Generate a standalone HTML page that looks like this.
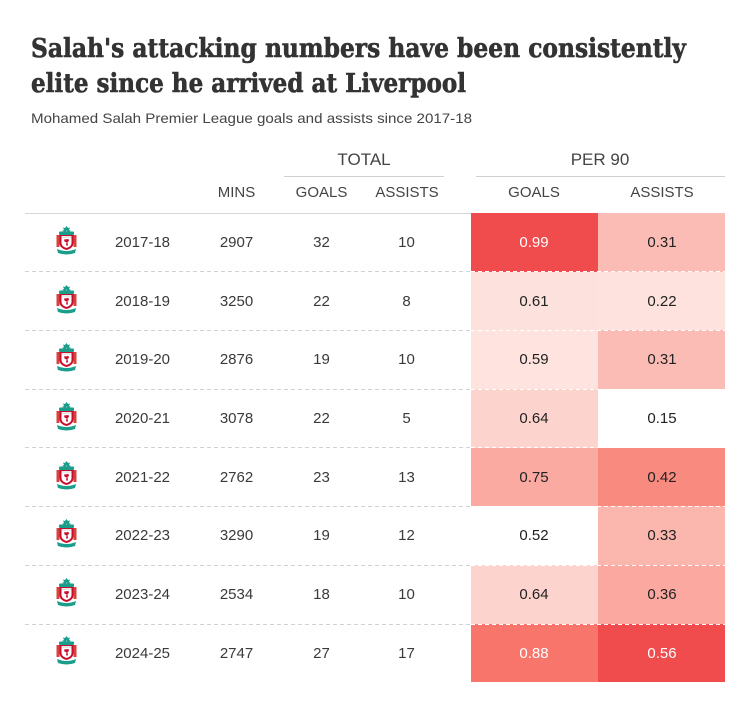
<!DOCTYPE html>
<html><head><meta charset="utf-8">
<style>
html,body{margin:0;padding:0;background:#fff;}
svg{display:block;}
.t{font-family:"DejaVu Serif","Liberation Serif",serif;font-weight:bold;font-size:26px;fill:#333;stroke:#333;stroke-width:0.6;}
.s{font-family:"Liberation Sans",sans-serif;font-size:14px;fill:#444;}
.h{font-family:"Liberation Sans",sans-serif;font-size:15px;fill:#444;text-anchor:middle;}
.hb{font-family:"Liberation Sans",sans-serif;font-size:17px;fill:#444;text-anchor:middle;}
.d{font-family:"Liberation Sans",sans-serif;font-size:15px;fill:#3a3a3a;text-anchor:middle;}
.p{font-family:"Liberation Sans",sans-serif;font-size:15px;fill:#222;text-anchor:middle;}
.w{fill:#fff;}
</style></head>
<body>
<svg width="750" height="708" viewBox="0 0 750 708" xmlns="http://www.w3.org/2000/svg">
<defs>
<g id="crest">
  <path d="M10.5 0 L12 2 L14 1.5 L13 4 L15 5 L11 6 L10.5 4 L10 6 L6 5 L8 4 L7 1.5 L9 2 Z" fill="#1a9d8a"/>
  <rect x="3" y="5.5" width="15" height="3.5" rx="1" fill="#1a9d8a"/>
  <rect x="0.5" y="9" width="3" height="12" fill="#d9413f"/>
  <rect x="17.5" y="9" width="3" height="12" fill="#d9413f"/>
  <path d="M3.5 9 H17.5 V17 Q17.5 22 10.5 24 Q3.5 22 3.5 17 Z" fill="#c8102e"/>
  <path d="M5.5 12 H15.5 V17 Q15.5 20.5 10.5 22 Q5.5 20.5 5.5 17 Z" fill="#fff"/>
  <rect x="5.5" y="10" width="10" height="2" fill="#e8e8e8"/>
  <path d="M8 13.5 L12.5 13 L13 15 L11.5 16 L12 19.5 L10 19.5 L10.5 16.5 L8.5 15.5 Z" fill="#c8102e"/>
  <path d="M1 23 Q10.5 27 20 23 L19 27 Q10.5 30 2 27 Z" fill="#1a9d8a"/>
</g>
</defs>

<text class="t" x="31" y="57" textLength="655" lengthAdjust="spacingAndGlyphs">Salah's attacking numbers have been consistently</text>
<text class="t" x="31" y="92" textLength="435" lengthAdjust="spacingAndGlyphs">elite since he arrived at Liverpool</text>
<text class="s" x="31" y="123" textLength="441" lengthAdjust="spacingAndGlyphs">Mohamed Salah Premier League goals and assists since 2017-18</text>

<text class="hb" x="364" y="165">TOTAL</text>
<text class="hb" x="600" y="165">PER 90</text>
<line x1="284" y1="176.5" x2="444" y2="176.5" stroke="#d0d0d0" stroke-width="1"/>
<line x1="476" y1="176.5" x2="725" y2="176.5" stroke="#d0d0d0" stroke-width="1"/>

<text class="h" x="236.5" y="197">MINS</text>
<text class="h" x="321.5" y="197">GOALS</text>
<text class="h" x="407" y="197">ASSISTS</text>
<text class="h" x="534" y="197">GOALS</text>
<text class="h" x="662" y="197">ASSISTS</text>

<line x1="25" y1="213.5" x2="725" y2="213.5" stroke="#d6d6d6" stroke-width="1"/>

<g>
<rect x="471" y="213" width="127" height="59" fill="#f04b4d"/>
<rect x="598" y="213" width="127" height="59" fill="#fbbcb5"/>
<rect x="471" y="272" width="127" height="58" fill="#fde1dd"/>
<rect x="598" y="272" width="127" height="58" fill="#fee2de"/>
<rect x="471" y="330" width="127" height="59" fill="#fee3df"/>
<rect x="598" y="330" width="127" height="59" fill="#fbbcb5"/>
<rect x="471" y="389" width="127" height="59" fill="#fdd3ce"/>
<rect x="598" y="389" width="127" height="59" fill="#ffffff"/>
<rect x="471" y="448" width="127" height="58" fill="#fbaaa2"/>
<rect x="598" y="448" width="127" height="58" fill="#f98a80"/>
<rect x="471" y="506" width="127" height="59" fill="#ffffff"/>
<rect x="598" y="506" width="127" height="59" fill="#fbb6ae"/>
<rect x="471" y="565" width="127" height="59" fill="#fdd3ce"/>
<rect x="598" y="565" width="127" height="59" fill="#faa8a0"/>
<rect x="471" y="624" width="127" height="58" fill="#f8756b"/>
<rect x="598" y="624" width="127" height="58" fill="#f04b4d"/>
</g>

<g stroke-width="1" stroke-dasharray="4 3">
<line x1="25" y1="271.5" x2="471" y2="271.5" stroke="#d2d2d2"/>
<line x1="471" y1="271.5" x2="725" y2="271.5" stroke="#ffffff"/>
<line x1="25" y1="330.5" x2="471" y2="330.5" stroke="#d2d2d2"/>
<line x1="471" y1="330.5" x2="725" y2="330.5" stroke="#ffffff"/>
<line x1="25" y1="389.5" x2="471" y2="389.5" stroke="#d2d2d2"/>
<line x1="471" y1="389.5" x2="725" y2="389.5" stroke="#ffffff"/>
<line x1="25" y1="447.5" x2="471" y2="447.5" stroke="#d2d2d2"/>
<line x1="471" y1="447.5" x2="725" y2="447.5" stroke="#ffffff"/>
<line x1="25" y1="506.5" x2="471" y2="506.5" stroke="#d2d2d2"/>
<line x1="471" y1="506.5" x2="725" y2="506.5" stroke="#ffffff"/>
<line x1="25" y1="565.5" x2="471" y2="565.5" stroke="#d2d2d2"/>
<line x1="471" y1="565.5" x2="725" y2="565.5" stroke="#ffffff"/>
<line x1="25" y1="624.5" x2="471" y2="624.5" stroke="#d2d2d2"/>
<line x1="471" y1="624.5" x2="725" y2="624.5" stroke="#ffffff"/>
</g>

<use href="#crest" x="56" y="226"/>
<use href="#crest" x="56" y="285"/>
<use href="#crest" x="56" y="343"/>
<use href="#crest" x="56" y="402"/>
<use href="#crest" x="56" y="461"/>
<use href="#crest" x="56" y="519"/>
<use href="#crest" x="56" y="578"/>
<use href="#crest" x="56" y="636"/>

<text class="d" x="142.5" y="247">2017-18</text>
<text class="d" x="236.5" y="247">2907</text>
<text class="d" x="321.5" y="247">32</text>
<text class="d" x="406.5" y="247">10</text>
<text class="p w" x="534" y="247">0.99</text>
<text class="p" x="662" y="247">0.31</text>

<text class="d" x="142.5" y="306">2018-19</text>
<text class="d" x="236.5" y="306">3250</text>
<text class="d" x="321.5" y="306">22</text>
<text class="d" x="406.5" y="306">8</text>
<text class="p" x="534" y="306">0.61</text>
<text class="p" x="662" y="306">0.22</text>

<text class="d" x="142.5" y="364">2019-20</text>
<text class="d" x="236.5" y="364">2876</text>
<text class="d" x="321.5" y="364">19</text>
<text class="d" x="406.5" y="364">10</text>
<text class="p" x="534" y="364">0.59</text>
<text class="p" x="662" y="364">0.31</text>

<text class="d" x="142.5" y="423">2020-21</text>
<text class="d" x="236.5" y="423">3078</text>
<text class="d" x="321.5" y="423">22</text>
<text class="d" x="406.5" y="423">5</text>
<text class="p" x="534" y="423">0.64</text>
<text class="p" x="662" y="423">0.15</text>

<text class="d" x="142.5" y="482">2021-22</text>
<text class="d" x="236.5" y="482">2762</text>
<text class="d" x="321.5" y="482">23</text>
<text class="d" x="406.5" y="482">13</text>
<text class="p" x="534" y="482">0.75</text>
<text class="p" x="662" y="482">0.42</text>

<text class="d" x="142.5" y="540">2022-23</text>
<text class="d" x="236.5" y="540">3290</text>
<text class="d" x="321.5" y="540">19</text>
<text class="d" x="406.5" y="540">12</text>
<text class="p" x="534" y="540">0.52</text>
<text class="p" x="662" y="540">0.33</text>

<text class="d" x="142.5" y="599">2023-24</text>
<text class="d" x="236.5" y="599">2534</text>
<text class="d" x="321.5" y="599">18</text>
<text class="d" x="406.5" y="599">10</text>
<text class="p" x="534" y="599">0.64</text>
<text class="p" x="662" y="599">0.36</text>

<text class="d" x="142.5" y="658">2024-25</text>
<text class="d" x="236.5" y="658">2747</text>
<text class="d" x="321.5" y="658">27</text>
<text class="d" x="406.5" y="658">17</text>
<text class="p w" x="534" y="658">0.88</text>
<text class="p w" x="662" y="658">0.56</text>
</svg>
</body></html>
